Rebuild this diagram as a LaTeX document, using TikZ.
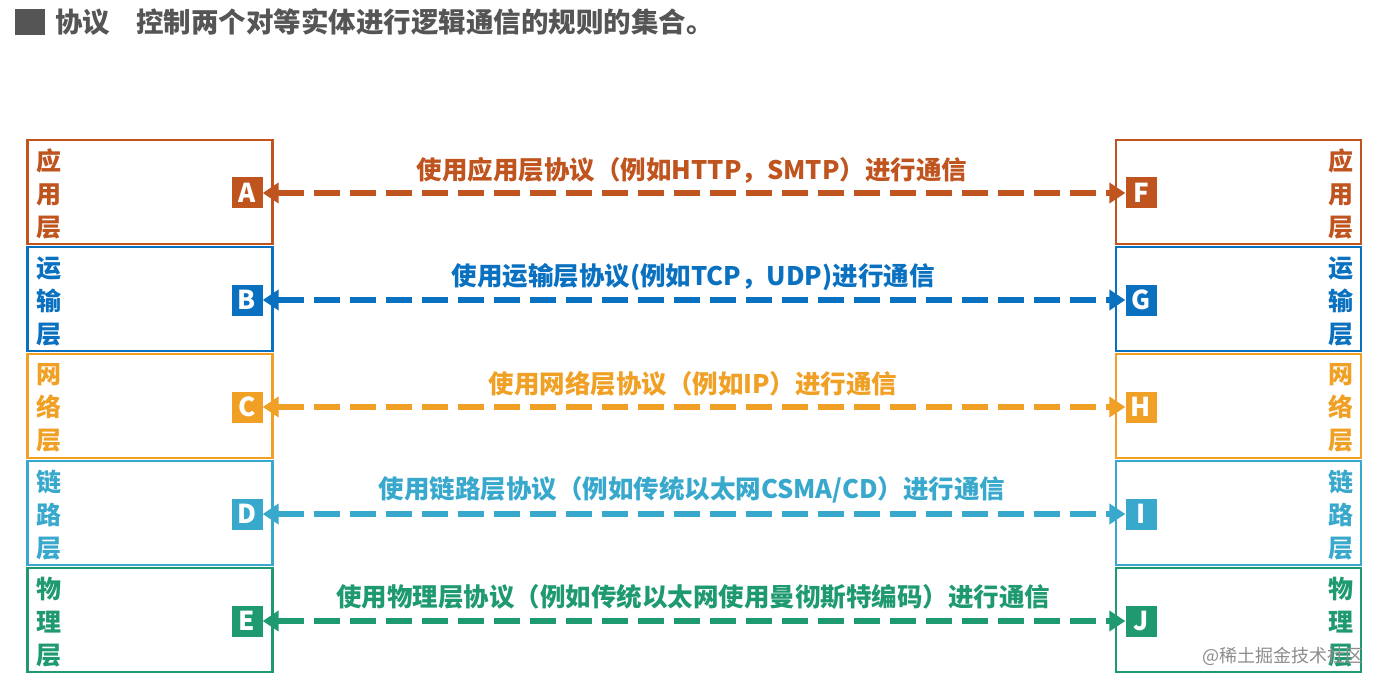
\documentclass[tikz,border=0pt]{standalone}
\usepackage{fontspec}
\setmainfont{Noto Sans CJK SC}
\usetikzlibrary{arrows.meta}
\definecolor{capp}{HTML}{C0541F}
\definecolor{ctra}{HTML}{0A70C0}
\definecolor{cnet}{HTML}{F0A025}
\definecolor{clnk}{HTML}{38A8CC}
\definecolor{cphy}{HTML}{1F9A70}
\definecolor{ctitle}{HTML}{555555}
\tikzset{
  layerbox/.style={draw=#1, line width=2.6pt, minimum width=245pt, minimum height=104pt, inner sep=0pt},
  letterbox/.style={fill=#1, text=white, minimum width=31pt, minimum height=31pt, inner sep=0pt, font=\fontsize{26}{26}\selectfont\bfseries},
  laytext/.style={text=#1, align=center, inner sep=0pt, font=\fontsize{25}{33}\selectfont\bfseries},
  proto/.style={draw=#1, line width=5.5pt, dash pattern=on 26pt off 10pt, {Triangle[length=16pt,width=20pt]}-{Triangle[length=16pt,width=20pt]}, shorten <=0pt, shorten >=0pt},
  protolabel/.style={text=#1, inner sep=0pt, font=\fontsize{25.5}{26}\selectfont\bfseries},
}
\begin{document}
\begin{tikzpicture}[x=1pt,y=-1pt]
\useasboundingbox (0,0) rectangle (1384,687);
% title
\fill[ctitle] (15,9) rectangle (45,35);
\node[anchor=west, text=ctitle, inner sep=0pt, font=\fontsize{27.5}{28}\selectfont\bfseries] (title) at (55,22) {协议\hspace{26pt}控制两个对等实体进行逻辑通信的规则的集合。};
% rows
\foreach \i/\col/\a/\b/\c/\l/\r [count=\n from 0] in {
  app/capp/应/用/层/A/F,
  tra/ctra/运/输/层/B/G,
  net/cnet/网/络/层/C/H,
  lnk/clnk/链/路/层/D/I,
  phy/cphy/物/理/层/E/J} {
  \pgfmathsetmacro{\yc}{192+\n*107}
  \node[layerbox=\col] (L\i) at (150,\yc) {};
  \node[layerbox=\col] (R\i) at (1238.5,\yc) {};
  \node[laytext=\col] (LT\i) at (49,\yc+2) {\a\\\b\\\c};
  \node[laytext=\col] (RT\i) at (1341,\yc+2) {\a\\\b\\\c};
  \node[letterbox=\col] (\l) at (247,\yc+1) {\l};
  \node[letterbox=\col] (\r) at (1141,\yc+1) {\r};
}
\draw[proto=capp] (A.east) -- (F.west);
\draw[proto=ctra] (B.east) -- (G.west);
\draw[proto=cnet] (C.east) -- (H.west);
\draw[proto=clnk] (D.east) -- (I.west);
\draw[proto=cphy] (E.east) -- (J.west);
\node[protolabel=capp] (PA) at (692,170) {使用应用层协议（例如HTTP，SMTP）进行通信};
\node[protolabel=ctra] (PB) at (693,277) {使用运输层协议(例如TCP，UDP)进行通信};
\node[protolabel=cnet] (PC) at (693,384) {使用网络层协议（例如IP）进行通信};
\node[protolabel=clnk] (PD) at (692,490) {使用链路层协议（例如传统以太网CSMA/CD）进行通信};
\node[protolabel=cphy] (PE) at (693,597) {使用物理层协议（例如传统以太网使用曼彻斯特编码）进行通信};
\node[anchor=east, text=black!45, inner sep=0pt, font=\fontsize{18}{18}\selectfont] (wm) at (1364,656) {@稀土掘金技术社区};
\end{tikzpicture}
\end{document}
